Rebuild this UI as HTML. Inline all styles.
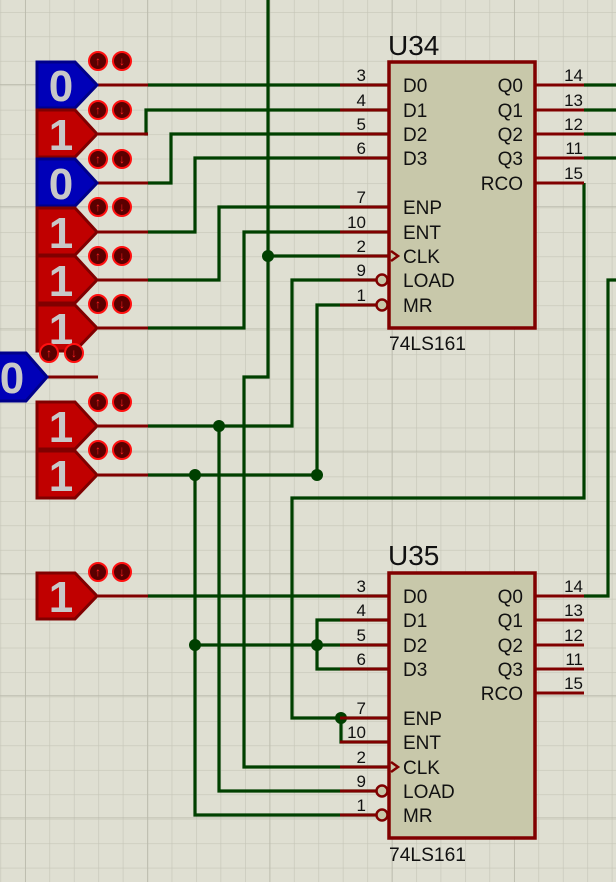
<!DOCTYPE html>
<html><head><meta charset="utf-8"><style>
html,body{margin:0;padding:0;background:#dfdfd2;}
svg{display:block;}
text{font-family:"Liberation Sans",sans-serif;}
</style></head><body>
<svg width="616" height="882" viewBox="0 0 616 882" xmlns="http://www.w3.org/2000/svg">
<defs>
<pattern id="g" x="0.5" y="12" width="24.45" height="24.45" patternUnits="userSpaceOnUse">
<path d="M0 0H24.45M0 0V24.45" stroke="#c6c6b8" stroke-width="1.3" fill="none"/>
</pattern>
<pattern id="G" x="25" y="84" width="122.25" height="122.25" patternUnits="userSpaceOnUse">
<path d="M0 0H122.25M0 0V122.25" stroke="#b8b8aa" stroke-width="1.6" fill="none"/>
</pattern>
</defs>
<rect width="616" height="882" fill="#dfdfd2"/>
<rect width="616" height="882" fill="url(#g)"/>
<rect width="616" height="882" fill="url(#G)"/>

<g stroke="#004000" stroke-width="3.2" fill="none">
<path d="M148 85H389"/>
<path d="M148 134H146V110H389"/>
<path d="M148 183H171V134H389"/>
<path d="M148 232H195V158H389"/>
<path d="M148 280H219V207H389"/>
<path d="M148 328H244V232H389"/>
<path d="M268 0V377H244V767H389"/>
<path d="M268 256H389"/>
<path d="M389 280H292V426H148"/>
<path d="M389 305H317V475H148"/>
<path d="M219 426V791H389"/>
<path d="M195 475V815H389"/>
<path d="M195 645H389"/>
<path d="M389 620H317V669H389"/>
<path d="M148 596H389"/>
<path d="M584 183V498H292V718H389"/>
<path d="M341 718V742H389"/>
<path d="M584 85H616M584 110H616M584 134H616M584 158H616"/>
<path d="M616 280H608V596H584"/>
</g>
<g fill="#004000">
<circle cx="268" cy="256" r="6"/>
<circle cx="219" cy="426" r="6"/>
<circle cx="195" cy="475" r="6"/>
<circle cx="317" cy="475" r="6"/>
<circle cx="195" cy="645" r="6"/>
<circle cx="317" cy="645" r="6"/>
<circle cx="341" cy="718" r="6"/>
</g>

<g stroke="#800000" stroke-width="3" fill="none">
<path d="M340 85H389M340 110H389M340 134H389M340 158H389M340 207H389M340 232H389M340 256H389M340 280H380M340 305H380"/>
<path d="M535 85H584M535 110H584M535 134H584M535 158H584M535 183H584"/>
<path d="M340 596H389M340 620H389M340 645H389M340 669H389M340 718H389M340 742H389M340 767H389M340 791H380M340 815H380"/>
<path d="M535 596H584M535 620H584M535 645H584M535 669H584M535 693H584"/>
</g>
<rect x="389" y="62" width="146" height="266" fill="#c8c8aa" stroke="#800000" stroke-width="3.5"/>
<rect x="389" y="573" width="146" height="265" fill="#c8c8aa" stroke="#800000" stroke-width="3.5"/>
<g stroke="#800000" stroke-width="2.5" fill="#c8c8aa">
<circle cx="382" cy="280" r="5.5"/><circle cx="382" cy="305" r="5.5"/>
<circle cx="382" cy="791" r="5.5"/><circle cx="382" cy="815" r="5.5"/>
<path d="M391 251L398 256L391 261" fill="none"/>
<path d="M391 762L398 767L391 772" fill="none"/>
</g>
<g font-size="28" fill="#111">
<text x="388" y="55">U34</text><text x="388" y="565">U35</text>
</g>
<g font-size="19" fill="#111">
<text x="389" y="350" textLength="77" lengthAdjust="spacingAndGlyphs">74LS161</text><text x="389" y="861" textLength="77" lengthAdjust="spacingAndGlyphs">74LS161</text>
<text x="403" y="92">D0</text><text x="403" y="117">D1</text><text x="403" y="141">D2</text><text x="403" y="165">D3</text>
<text x="403" y="214">ENP</text><text x="403" y="239">ENT</text><text x="403" y="263">CLK</text><text x="403" y="287">LOAD</text><text x="403" y="312">MR</text>
<text x="403" y="603">D0</text><text x="403" y="627">D1</text><text x="403" y="652">D2</text><text x="403" y="676">D3</text>
<text x="403" y="725">ENP</text><text x="403" y="749">ENT</text><text x="403" y="774">CLK</text><text x="403" y="798">LOAD</text><text x="403" y="822">MR</text>
<g text-anchor="end">
<text x="523" y="92">Q0</text><text x="523" y="117">Q1</text><text x="523" y="141">Q2</text><text x="523" y="165">Q3</text><text x="523" y="190">RCO</text>
<text x="523" y="603">Q0</text><text x="523" y="627">Q1</text><text x="523" y="652">Q2</text><text x="523" y="676">Q3</text><text x="523" y="700">RCO</text>
</g>
</g>
<g font-size="17" fill="#111" text-anchor="end">
<text x="366" y="81">3</text><text x="366" y="106">4</text><text x="366" y="130">5</text><text x="366" y="154">6</text>
<text x="366" y="203">7</text><text x="366" y="228">10</text><text x="366" y="252">2</text><text x="366" y="276">9</text><text x="366" y="301">1</text>
<text x="366" y="592">3</text><text x="366" y="616">4</text><text x="366" y="641">5</text><text x="366" y="665">6</text>
<text x="366" y="714">7</text><text x="366" y="738">10</text><text x="366" y="763">2</text><text x="366" y="787">9</text><text x="366" y="811">1</text>
<text x="583" y="81">14</text><text x="583" y="106">13</text><text x="583" y="130">12</text><text x="583" y="154">11</text><text x="583" y="179">15</text>
<text x="583" y="592">14</text><text x="583" y="616">13</text><text x="583" y="641">12</text><text x="583" y="665">11</text><text x="583" y="689">15</text>
</g>

<g stroke="#800000" stroke-width="3">
<path d="M98 85H148M98 134H148M98 183H148M98 232H148M98 280H148M98 328H148M98 426H148M98 475H148M98 596H148M48 377H98"/>
</g>
<g stroke-width="3" stroke-linejoin="miter">
<polygon points="37,62 75,62 97,85 75,108 37,108" fill="#0000b8" stroke="#00008a"/>
<polygon points="37,110 75,110 97,134 75,157 37,157" fill="#c00000" stroke="#800000"/>
<polygon points="37,159 75,159 97,183 75,206 37,206" fill="#0000b8" stroke="#00008a"/>
<polygon points="37,208 75,208 97,232 75,255 37,255" fill="#c00000" stroke="#800000"/>
<polygon points="37,256 75,256 97,280 75,303 37,303" fill="#c00000" stroke="#800000"/>
<polygon points="37,305 75,305 97,328 75,351 37,351" fill="#c00000" stroke="#800000"/>
<polygon points="-10,353 26,353 47,377 26,401 -10,401" fill="#0000b8" stroke="#00008a"/>
<polygon points="37,402 75,402 97,426 75,449 37,449" fill="#c00000" stroke="#800000"/>
<polygon points="37,451 75,451 97,475 75,498 37,498" fill="#c00000" stroke="#800000"/>
<polygon points="37,573 75,573 97,596 75,619 37,619" fill="#c00000" stroke="#800000"/>
</g>
<g font-size="44" font-weight="bold" fill="#c8c8c8" text-anchor="middle">
<text x="61" y="101">0</text><text x="61" y="150">1</text><text x="61" y="199">0</text><text x="61" y="248">1</text>
<text x="61" y="296">1</text><text x="61" y="344">1</text><text x="12" y="393">0</text><text x="61" y="442">1</text>
<text x="61" y="491">1</text><text x="61" y="612">1</text>
</g>
<g stroke="#ff1010" stroke-width="2" fill="#5a0000">
<circle cx="98" cy="61" r="9"/><circle cx="122" cy="61" r="9"/>
<circle cx="98" cy="110" r="9"/><circle cx="122" cy="110" r="9"/>
<circle cx="98" cy="159" r="9"/><circle cx="122" cy="159" r="9"/>
<circle cx="98" cy="207" r="9"/><circle cx="122" cy="207" r="9"/>
<circle cx="98" cy="256" r="9"/><circle cx="122" cy="256" r="9"/>
<circle cx="98" cy="304" r="9"/><circle cx="122" cy="304" r="9"/>
<circle cx="49" cy="353" r="9"/><circle cx="74" cy="353" r="9"/>
<circle cx="98" cy="402" r="9"/><circle cx="122" cy="402" r="9"/>
<circle cx="98" cy="450" r="9"/><circle cx="122" cy="450" r="9"/>
<circle cx="98" cy="572" r="9"/><circle cx="122" cy="572" r="9"/>
</g>
<g font-size="12" font-weight="bold" fill="#ff2020" text-anchor="middle">
<text x="98" y="65">↑</text><text x="122" y="65">↓</text>
<text x="98" y="114">↑</text><text x="122" y="114">↓</text>
<text x="98" y="163">↑</text><text x="122" y="163">↓</text>
<text x="98" y="211">↑</text><text x="122" y="211">↓</text>
<text x="98" y="260">↑</text><text x="122" y="260">↓</text>
<text x="98" y="308">↑</text><text x="122" y="308">↓</text>
<text x="49" y="357">↑</text><text x="74" y="357">↓</text>
<text x="98" y="406">↑</text><text x="122" y="406">↓</text>
<text x="98" y="454">↑</text><text x="122" y="454">↓</text>
<text x="98" y="576">↑</text><text x="122" y="576">↓</text>
</g>
</svg>
</body></html>
